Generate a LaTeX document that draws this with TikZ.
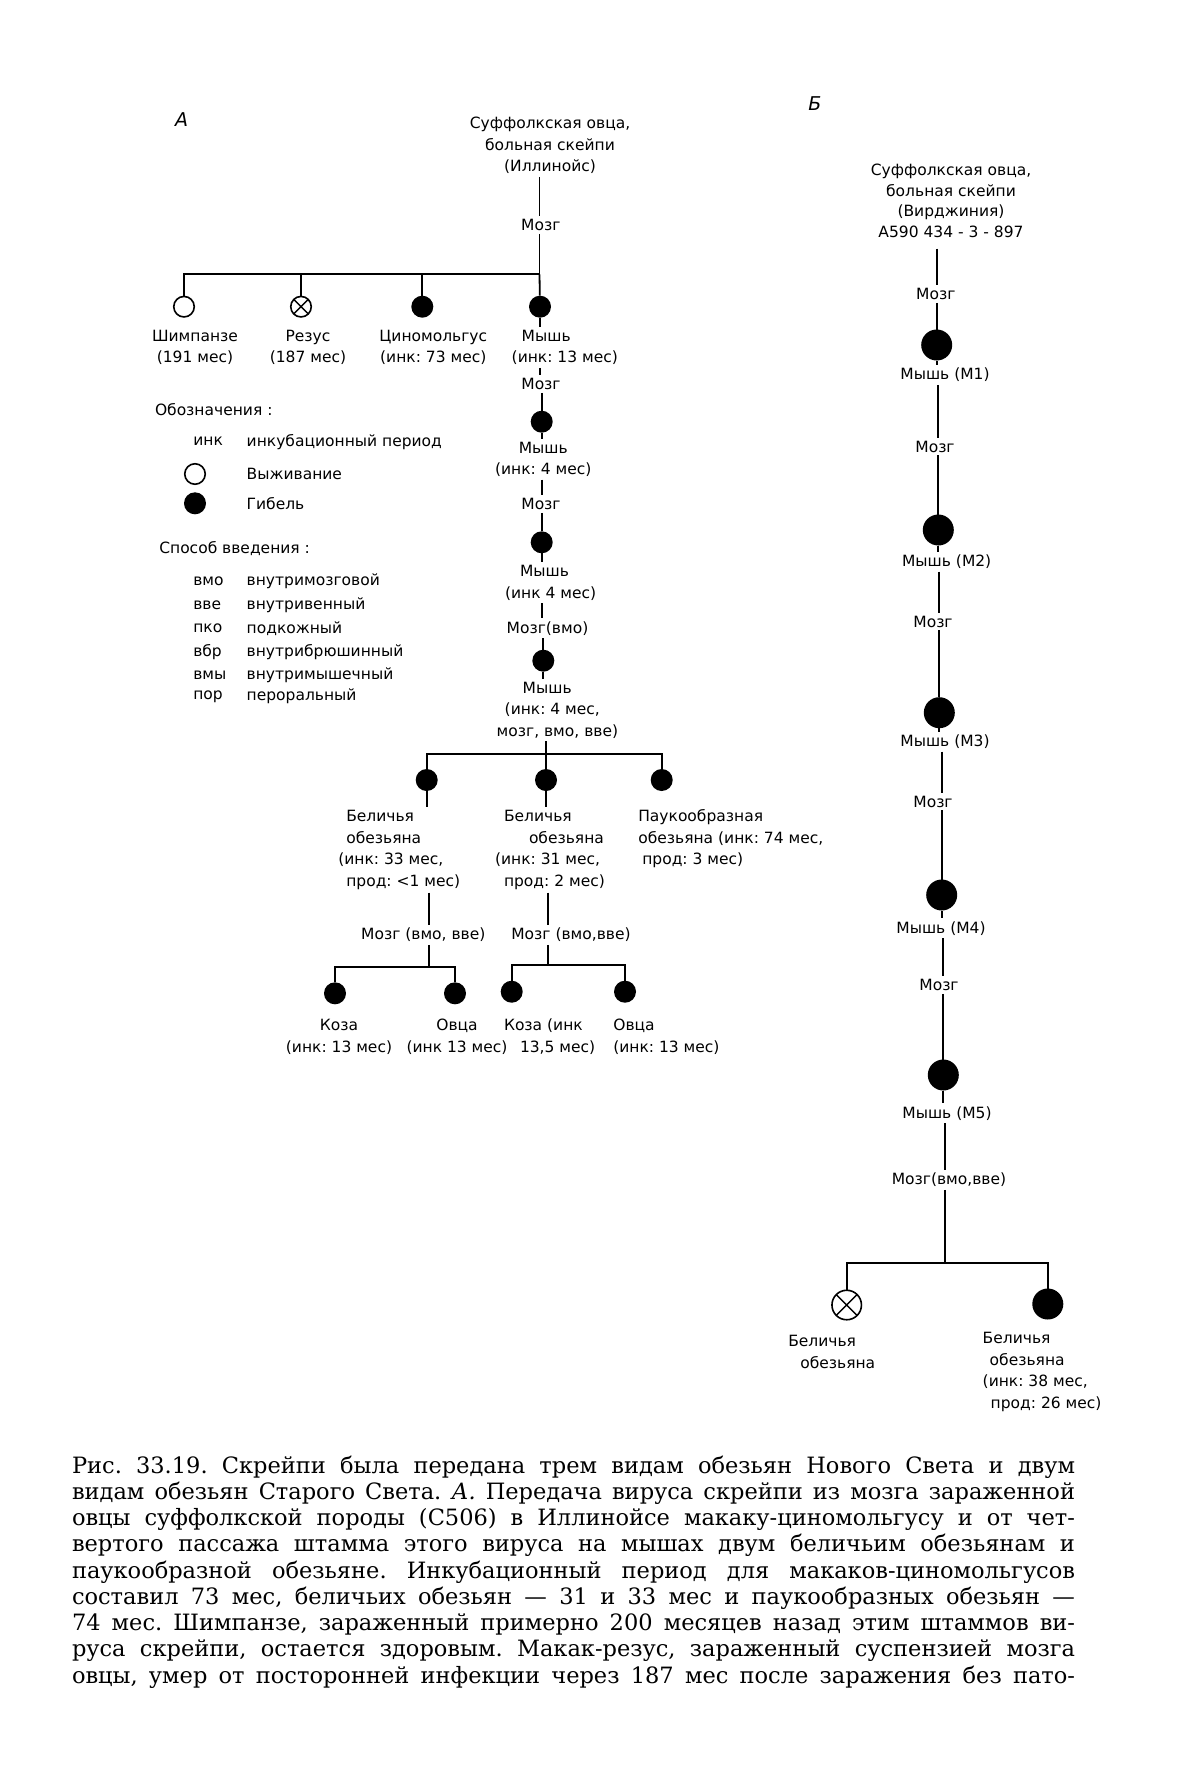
\documentclass[tikz,border=0pt]{standalone}
\usepackage{fontspec}
\newfontfamily\labfont{DejaVu Sans}
\newfontfamily\capfont{DejaVu Serif}
\frenchspacing
\begin{document}
\begin{tikzpicture}[x=1pt,y=-1pt,
  lab/.style={font=\labfont\fontsize{15.5}{21.5}\selectfont, inner sep=1pt, outer sep=2pt, align=center},
  labl/.style={lab, align=left, anchor=west},
  ln/.style={line width=1.8pt},
  dead/.style={circle, fill=black, draw=none, inner sep=0pt, outer sep=0pt, minimum size=22pt},
  alive/.style={circle, draw=black, fill=white, line width=1.6pt, inner sep=0pt, outer sep=0pt, minimum size=20.5pt},
  crossed/.style={alive, path picture={\draw[line width=1.4pt] (path picture bounding box.south west) -- (path picture bounding box.north east) (path picture bounding box.north west) -- (path picture bounding box.south east);}},
  bigdead/.style={dead, minimum size=31pt},
  bigcross/.style={crossed, minimum size=29.5pt},
  capline/.style={font=\capfont\fontsize{22.5}{26}\selectfont\frenchspacing, inner sep=0pt, outer sep=0pt, anchor=west, text height=17pt, text depth=6pt},
  panel/.style={font=\labfont\itshape\fontsize{19}{19}\selectfont, inner sep=0pt}
]
\fill[white] (0,0) rectangle (1200,1791);
\useasboundingbox (0,0) rectangle (1200,1791);

% ---------- panel letters
\node[panel] (pA) at (181.7,120) {А};
\node[panel] (pB) at (815,104) {Б};

% ---------- Panel A top
\node[lab] (topA) at (550,145.6) {Суффолкская овца,\\больная скейпи\\(Иллинойс)};
\coordinate (jA) at (539.5,274.3);
\node[lab] (mzA0) at (540.8,225) {Мозг};
\draw[ln] (jA |- topA.south) -- (jA |- mzA0.north);
\draw[ln] (jA |- mzA0.south) -- (jA);

\node[alive] (chimp) at (184,306.7) {};
\node[crossed] (rhesus) at (301,306.7) {};
\node[dead] (cyno) at (422.3,306.7) {};
\node[dead] (mA1) at (540,306.7) {};
\draw[ln] (jA) -| (chimp);
\draw[ln] (rhesus |- jA) -- (rhesus);
\draw[ln] (cyno |- jA) -- (cyno);
\draw[ln] (jA) -- (mA1);

\node[lab] (chimpL) at (195,347.5) {Шимпанзе\\(191 мес)};
\node[lab] (rhesusL) at (308,347.5) {Резус\\(187 мес)};
\node[lab] (cynoL) at (433.3,347.5) {Циномольгус\\(инк: 73 мес)};
\node[labl] (mA1L) at (508.7,347.5) {\hspace*{10pt}Мышь\\(инк: 13 мес)};
\draw[ln] (mA1) -- (mA1 |- mA1L.north);

% ---------- Panel A main chain
\node[lab] (mzA1) at (541,384) {Мозг};
\draw[ln] (mA1 |- mA1L.south) -- (mA1 |- mzA1.north);
\node[dead] (mA2) at (541.7,421.7) {};
\draw[ln] (mA2 |- mzA1.south) -- (mA2);
\node[lab] (mA2L) at (543.3,459.2) {Мышь\\(инк: 4 мес)};
\draw[ln] (mA2) -- (mA2 |- mA2L.north);
\node[lab] (mzA2) at (541,504) {Мозг};
\draw[ln] (mA2 |- mA2L.south) -- (mA2 |- mzA2.north);
\node[dead] (mA3) at (541.7,542.3) {};
\draw[ln] (mA3 |- mzA2.south) -- (mA3);
\node[labl] (mA3L) at (502,582.9) {\hspace*{15pt}Мышь\\(инк 4 мес)};
\draw[ln] (mA3) -- (mA3 |- mA3L.north);
\node[lab] (mzA3) at (547.5,628.3) {Мозг(вмо)};
\draw[ln] (mA3 |- mA3L.south) -- (mA3 |- mzA3.north);
\node[dead] (mA4) at (543.3,660.7) {};
\draw[ln] (mA4 |- mzA3.south) -- (mA4);
\node[labl] (mA4L) at (493.7,710) {\hspace*{26pt}Мышь\\\hspace*{8pt}(инк: 4 мес,\\мозг, вмо, вве)};
\draw[ln] (mA4) -- (mA4 |- mA4L.north);
\coordinate (jA4) at (546,754);
\draw[ln] (jA4 |- mA4L.south) -- (jA4);

\node[dead] (sq1) at (426.7,780) {};
\node[dead] (sq2) at (546,780) {};
\node[dead] (spm) at (661.7,780) {};
\draw[ln] (sq1) |- (jA4) -| (spm);
\draw[ln] (jA4) -- (sq2);

\node[labl] (sq1L) at (335.3,850) {\hspace*{8pt}Беличья\\\hspace*{8pt}обезьяна\\(инк: 33 мес,\\\hspace*{8pt}прод: <1 мес)};
\draw[ln] (sq1) -- (sq1 |- sq1L.north);
\node[labl] (sq2L) at (492,850) {\hspace*{9pt}Беличья\\\hspace*{34pt}обезьяна\\(инк: 31 мес,\\\hspace*{9pt}прод: 2 мес)};
\draw[ln] (sq2) -- (sq2 |- sq2L.north);
\node[labl] (spL) at (635.3,839) {Паукообразная\\обезьяна (инк: 74 мес,\\\hspace*{4pt}прод: 3 мес)};

% ---------- sub-branches
\node[lab] (mzL) at (423.3,935) {Мозг (вмо, вве)};
\coordinate (jL) at (429.3,967);
\draw[ln] (jL |- sq1L.south) -- (jL |- mzL.north);
\draw[ln] (jL |- mzL.south) -- (jL);
\node[dead] (g1) at (335,993.3) {};
\node[dead] (s1) at (455,993.3) {};
\draw[ln] (g1) |- (jL) -| (s1);
\node[lab] (g1L) at (339,1036.7) {Коза\\(инк: 13 мес)};
\node[lab] (s1L) at (457,1036.7) {Овца\\(инк 13 мес)};

\node[lab] (mzM) at (571,935) {Мозг (вмо,вве)};
\coordinate (jM) at (547.7,965);
\draw[ln] (jM |- sq2L.south) -- (jM |- mzM.north);
\draw[ln] (jM |- mzM.south) -- (jM);
\node[dead] (g2) at (511.7,991.7) {};
\node[dead] (s2) at (625,991.7) {};
\draw[ln] (g2) |- (jM) -| (s2);
\node[labl] (g2L) at (501,1036.7) {Коза (инк\\\hspace*{16pt}13,5 мес)};
\node[labl] (s2L) at (610.3,1036.7) {Овца\\(инк: 13 мес)};

% ---------- legend
\node[labl] (leg0) at (152,410) {Обозначения :};
\node[labl] (legi) at (190.3,441.7) {инк};
\node[labl] (legid) at (243.7,441.7) {инкубационный период};
\node[alive] (legA) at (195,474) {};
\node[labl] (legAd) at (243.7,474) {Выживание};
\node[dead] (legD) at (195,503.3) {};
\node[labl] (legDd) at (243.7,503.3) {Гибель};
\node[labl] (leg1) at (156.3,548.3) {Способ введения :};
\node[labl] (r1a) at (190.3,581.7) {вмо};
\node[labl] (r1b) at (243.7,581.7) {внутримозговой};
\node[labl] (r2a) at (190.3,605) {вве};
\node[labl] (r2b) at (243.7,605) {внутривенный};
\node[labl] (r3a) at (190.3,628.3) {пко};
\node[labl] (r3b) at (243.7,628.3) {подкожный};
\node[labl] (r4a) at (190.3,651.7) {вбр};
\node[labl] (r4b) at (243.7,651.7) {внутрибрюшинный};
\node[labl] (r5a) at (190.3,675) {вмы};
\node[labl] (r5b) at (243.7,675) {внутримышечный};
\node[labl] (r6a) at (190.3,696.7) {пор};
\node[labl] (r6b) at (243.7,696.7) {пероральный};

% ---------- Panel B
\node[lab, font=\labfont\fontsize{15.5}{20.6}\selectfont] (topB) at (951,200.8) {Суффолкская овца,\\больная скейпи\\(Вирджиния)\\А590 434 - 3 - 897};
\node[lab] (mzB1) at (935.8,294) {Мозг};
\node[bigdead] (c1) at (936.7,345) {};
\draw[ln, shorten <=8pt] (c1 |- topB.south) -- (c1 |- mzB1.north);
\draw[ln] (c1 |- mzB1.south) -- (c1);
\node[lab] (b1L) at (945,375) {Мышь (М1)};
\draw[ln] (c1) -- (c1 |- b1L.north);
\node[lab] (mzB2) at (935,446.7) {Мозг};
\node[bigdead] (c2) at (938.3,530) {};
\draw[ln] (c2 |- b1L.south) -- (c2 |- mzB2.north);
\draw[ln] (c2 |- mzB2.south) -- (c2);
\node[lab] (b2L) at (946.7,561.7) {Мышь (М2)};
\draw[ln] (c2) -- (c2 |- b2L.north);
\node[lab] (mzB3) at (933,621.7) {Мозг};
\node[bigdead] (c3) at (939.3,712.7) {};
\draw[ln] (c3 |- b2L.south) -- (c3 |- mzB3.north);
\draw[ln] (c3 |- mzB3.south) -- (c3);
\node[lab] (b3L) at (945,741.7) {Мышь (М3)};
\draw[ln] (c3) -- (c3 |- b3L.north);
\node[lab] (mzB4) at (933,801.7) {Мозг};
\node[bigdead] (c4) at (941.7,895) {};
\draw[ln] (c4 |- b3L.south) -- (c4 |- mzB4.north);
\draw[ln] (c4 |- mzB4.south) -- (c4);
\node[lab] (b4L) at (941,928.3) {Мышь (М4)};
\draw[ln] (c4) -- (c4 |- b4L.north);
\node[lab] (mzB5) at (939,985) {Мозг};
\node[bigdead] (c5) at (943.3,1075) {};
\draw[ln] (c5 |- b4L.south) -- (c5 |- mzB5.north);
\draw[ln] (c5 |- mzB5.south) -- (c5);
\node[lab] (b5L) at (947,1113.3) {Мышь (М5)};
\draw[ln] (c5) -- (c5 |- b5L.north);
\node[lab] (mzB6) at (949,1180) {Мозг(вмо,вве)};
\coordinate (jB) at (945,1263.3);
\draw[ln] (jB |- b5L.south) -- (jB |- mzB6.north);
\draw[ln] (jB |- mzB6.south) -- (jB);
\node[bigcross] (xB) at (846.7,1305) {};
\node[bigdead] (dB) at (1047.8,1304) {};
\draw[ln] (xB) |- (jB) -| (dB);
\node[labl] (xBL) at (785.3,1351.7) {Беличья\\\hspace*{12pt}обезьяна};
\node[labl] (dBL) at (979.7,1371.7) {Беличья\\\hspace*{7pt}обезьяна\\(инк: 38 мес,\\\hspace*{8pt}прод: 26 мес)};

% ---------- caption
\node[capline] (cap1) at (72,1467.5) {\makebox[1003pt][s]{Рис. 33.19. Скрейпи была передана трем видам обезьян Нового Света и двум}};
\node[capline] (cap2) at (72,1493.75) {\makebox[1003pt][s]{видам обезьян Старого Света. \textit{А.} Передача вируса скрейпи из мозга зараженной}};
\node[capline] (cap3) at (72,1520) {\makebox[1003pt][s]{овцы суффолкской породы (С506) в Иллинойсе макаку-циномольгусу и от чет-}};
\node[capline] (cap4) at (72,1546.25) {\makebox[1003pt][s]{вертого пассажа штамма этого вируса на мышах двум беличьим обезьянам и}};
\node[capline] (cap5) at (72,1572.5) {\makebox[1003pt][s]{паукообразной обезьяне. Инкубационный период для макаков-циномольгусов}};
\node[capline] (cap6) at (72,1598.75) {\makebox[1003pt][s]{составил 73 мес, беличьих обезьян — 31 и 33 мес и паукообразных обезьян —}};
\node[capline] (cap7) at (72,1625) {\makebox[1003pt][s]{74 мес. Шимпанзе, зараженный примерно 200 месяцев назад этим штаммов ви-}};
\node[capline] (cap8) at (72,1651.25) {\makebox[1003pt][s]{руса скрейпи, остается здоровым. Макак-резус, зараженный суспензией мозга}};
\node[capline] (cap9) at (72,1677.5) {\makebox[1003pt][s]{овцы, умер от посторонней инфекции через 187 мес после заражения без пато-}};
\end{tikzpicture}
\end{document}
